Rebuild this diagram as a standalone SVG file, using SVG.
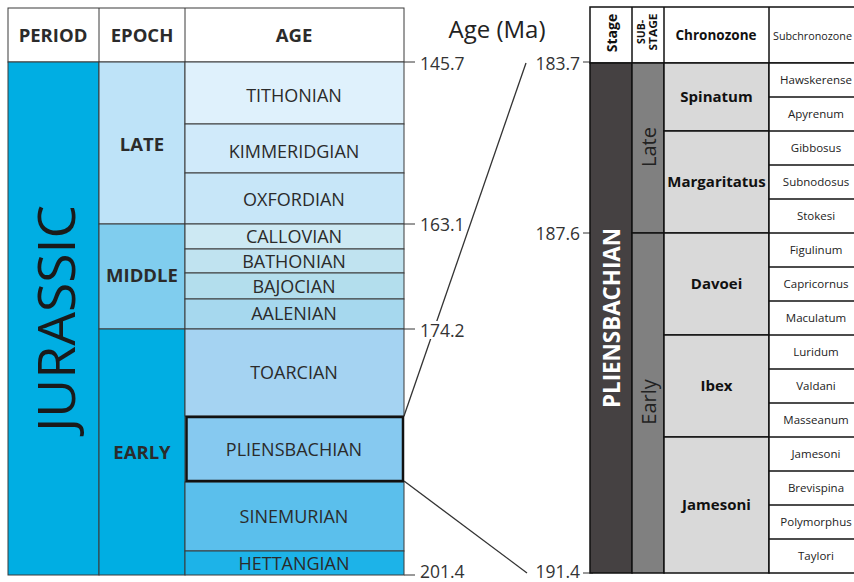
<svg xmlns="http://www.w3.org/2000/svg" width="854" height="582" viewBox="0 0 854 582">
<style>
text{font-family:"Open Sans","Liberation Sans",sans-serif;fill:#2b2b2b}
.hd{font-size:18.5px;font-weight:bold;text-anchor:middle}
.ep{font-size:18.5px;font-weight:bold;text-anchor:middle}
.ag{font-size:18px;text-anchor:middle}
.num{font-size:17.5px;fill:#333}
.cz{font-size:15px;font-weight:bold;text-anchor:middle;fill:#111}
.sc{font-size:11.5px;text-anchor:middle;fill:#222}
.cell{stroke:#3a3a3a;stroke-width:1}
.rc{stroke:#111;stroke-width:1.5}
.tick{stroke:#555;stroke-width:1.2}
</style>
<rect width="854" height="582" fill="#fff"/>

<!-- Left table -->
<g id="left-header">
<rect x="8" y="8" width="396" height="54" fill="#fff" class="cell"/>
<line x1="99" y1="8" x2="99" y2="62" class="cell"/>
<line x1="185" y1="8" x2="185" y2="62" class="cell"/>
<text class="hd" x="53" y="42">PERIOD</text>
<text class="hd" x="142" y="42">EPOCH</text>
<text class="hd" x="294" y="42">AGE</text>
</g>
<g id="period-jurassic">
<rect x="8" y="62" width="91" height="513" fill="#00aee3" class="cell"/>
<text transform="translate(75,318.5) rotate(-90)" text-anchor="middle" font-size="52" font-weight="normal" textLength="227" lengthAdjust="spacingAndGlyphs" style="fill:#1a1a1a">JURASSIC</text>
</g>
<g id="epoch-late">
<rect x="99" y="62" width="86" height="162" fill="#bee3f8" class="cell"/>
<text class="ep" x="142" y="151">LATE</text>
</g>
<g id="epoch-middle">
<rect x="99" y="224" width="86" height="105" fill="#80cdee" class="cell"/>
<text class="ep" x="142" y="282">MIDDLE</text>
</g>
<g id="epoch-early">
<rect x="99" y="329" width="86" height="246" fill="#00aee3" class="cell"/>
<text class="ep" x="142" y="459">EARLY</text>
</g>
<g id="age-tithonian"><rect x="185" y="62" width="219" height="62" fill="#dff1fc" class="cell"/><text class="ag" x="294" y="102">TITHONIAN</text></g>
<g id="age-kimmeridgian"><rect x="185" y="124" width="219" height="49" fill="#d0eafa" class="cell"/><text class="ag" x="294" y="158">KIMMERIDGIAN</text></g>
<g id="age-oxfordian"><rect x="185" y="173" width="219" height="51" fill="#c7e6f8" class="cell"/><text class="ag" x="294" y="206">OXFORDIAN</text></g>
<g id="age-callovian"><rect x="185" y="224" width="219" height="25" fill="#cde9f3" class="cell"/><text class="ag" x="294" y="243">CALLOVIAN</text></g>
<g id="age-bathonian"><rect x="185" y="249" width="219" height="24" fill="#c0e3f0" class="cell"/><text class="ag" x="294" y="268">BATHONIAN</text></g>
<g id="age-bajocian"><rect x="185" y="273" width="219" height="26" fill="#b3deed" class="cell"/><text class="ag" x="294" y="293">BAJOCIAN</text></g>
<g id="age-aalenian"><rect x="185" y="299" width="219" height="30" fill="#a6d8ee" class="cell"/><text class="ag" x="294" y="320">AALENIAN</text></g>
<g id="age-toarcian"><rect x="185" y="329" width="219" height="87" fill="#a5d3f2" class="cell"/><text class="ag" x="294" y="379">TOARCIAN</text></g>
<g id="age-sinemurian"><rect x="185" y="482" width="219" height="69" fill="#5bbfec" class="cell"/><text class="ag" x="294" y="523">SINEMURIAN</text></g>
<g id="age-hettangian"><rect x="185" y="551" width="219" height="24" fill="#1db3e8" class="cell"/><text class="ag" x="294" y="570">HETTANGIAN</text></g>
<g id="age-pliensbachian"><rect x="186.5" y="417" width="216.5" height="64" fill="#86c9f0" stroke="#111" stroke-width="2.5"/><text class="ag" x="294" y="456">PLIENSBACHIAN</text></g>

<!-- Connectors -->
<g id="connectors" stroke="#333" stroke-width="1.3" fill="none">
<line x1="404" y1="416" x2="526" y2="63"/>
<line x1="404" y1="481" x2="527" y2="573"/>
</g>

<!-- Left ticks and labels -->
<g id="left-ticks">
<line x1="404" y1="62" x2="415" y2="62" class="tick"/>
<line x1="404" y1="224" x2="415" y2="224" class="tick"/>
<line x1="404" y1="329" x2="415" y2="329" class="tick"/>
<line x1="404" y1="575" x2="415" y2="575" class="tick"/>
<text class="num" x="420" y="70">145.7</text>
<text class="num" x="420" y="231">163.1</text>
<rect x="419" y="321" width="48" height="18" fill="#fff"/>
<text class="num" x="420" y="337">174.2</text>
<text class="num" x="420" y="578">201.4</text>
</g>
<text id="age-ma" x="497" y="38" font-size="24" text-anchor="middle" style="fill:#222">Age (Ma)</text>

<!-- Right ticks -->
<g id="right-ticks">
<line x1="583" y1="62" x2="593" y2="62" class="tick"/>
<line x1="583" y1="233" x2="593" y2="233" class="tick"/>
<line x1="583" y1="573" x2="593" y2="573" class="tick"/>
<text class="num" x="580" y="70" text-anchor="end">183.7</text>
<text class="num" x="580" y="240" text-anchor="end">187.6</text>
<text class="num" x="580" y="578" text-anchor="end">191.4</text>
</g>

<!-- Right table -->
<g id="right-header">
<rect x="590" y="7" width="270" height="56" fill="#fff" class="rc"/>
<line x1="632" y1="7" x2="632" y2="63" class="rc"/>
<line x1="664" y1="7" x2="664" y2="63" class="rc"/>
<line x1="769" y1="7" x2="769" y2="63" class="rc"/>
<text transform="translate(617,33) rotate(-90)" text-anchor="middle" font-size="14" font-weight="bold" style="fill:#111">Stage</text>
<text transform="translate(645,32) rotate(-90)" text-anchor="middle" font-size="10.5" font-weight="bold" style="fill:#111">SUB-</text>
<text transform="translate(657,32) rotate(-90)" text-anchor="middle" font-size="10.5" font-weight="bold" textLength="37" lengthAdjust="spacingAndGlyphs" style="fill:#111">STAGE</text>
<text x="716" y="40" font-size="13.5" font-weight="bold" text-anchor="middle" style="fill:#111">Chronozone</text>
<text x="773" y="40" font-size="11" textLength="79" lengthAdjust="spacingAndGlyphs" style="fill:#222">Subchronozone</text>
</g>
<g id="stage-pliensbachian">
<rect x="590" y="63" width="42" height="510" fill="#454142" class="rc"/>
<text transform="translate(620,318) rotate(-90)" text-anchor="middle" font-size="23" font-weight="bold" textLength="180" lengthAdjust="spacingAndGlyphs" style="fill:#fff">PLIENSBACHIAN</text>
</g>
<g id="substage-late">
<rect x="632" y="63" width="32" height="170" fill="#808080" class="rc"/>
<text transform="translate(656,147) rotate(-90)" text-anchor="middle" font-size="20" style="fill:#222">Late</text>
</g>
<g id="substage-early">
<rect x="632" y="233" width="32" height="340" fill="#808080" class="rc"/>
<text transform="translate(656,402) rotate(-90)" text-anchor="middle" font-size="20" style="fill:#222">Early</text>
</g>
<g id="chrono-spinatum"><rect x="664" y="63" width="105" height="68" fill="#d9d9d9" class="rc"/><text class="cz" x="716.5" y="102">Spinatum</text></g>
<g id="chrono-margaritatus"><rect x="664" y="131" width="105" height="102" fill="#d9d9d9" class="rc"/><text class="cz" x="716.5" y="187">Margaritatus</text></g>
<g id="chrono-davoei"><rect x="664" y="233" width="105" height="102" fill="#d9d9d9" class="rc"/><text class="cz" x="716.5" y="289">Davoei</text></g>
<g id="chrono-ibex"><rect x="664" y="335" width="105" height="102" fill="#d9d9d9" class="rc"/><text class="cz" x="716.5" y="391">Ibex</text></g>
<g id="chrono-jamesoni"><rect x="664" y="437" width="105" height="136" fill="#d9d9d9" class="rc"/><text class="cz" x="716.5" y="510">Jamesoni</text></g>
<g id="subchronozones">
<rect x="769" y="63" width="91" height="510" fill="#fff" class="rc"/>
<g class="rc">
<line x1="769" y1="97" x2="860" y2="97"/><line x1="769" y1="131" x2="860" y2="131"/><line x1="769" y1="165" x2="860" y2="165"/><line x1="769" y1="199" x2="860" y2="199"/><line x1="769" y1="233" x2="860" y2="233"/><line x1="769" y1="267" x2="860" y2="267"/><line x1="769" y1="301" x2="860" y2="301"/><line x1="769" y1="335" x2="860" y2="335"/><line x1="769" y1="369" x2="860" y2="369"/><line x1="769" y1="403" x2="860" y2="403"/><line x1="769" y1="437" x2="860" y2="437"/><line x1="769" y1="471" x2="860" y2="471"/><line x1="769" y1="505" x2="860" y2="505"/><line x1="769" y1="539" x2="860" y2="539"/>
</g>
<text class="sc" x="816" y="84">Hawskerense</text>
<text class="sc" x="816" y="118">Apyrenum</text>
<text class="sc" x="816" y="152">Gibbosus</text>
<text class="sc" x="816" y="186">Subnodosus</text>
<text class="sc" x="816" y="220">Stokesi</text>
<text class="sc" x="816" y="254">Figulinum</text>
<text class="sc" x="816" y="288">Capricornus</text>
<text class="sc" x="816" y="322">Maculatum</text>
<text class="sc" x="816" y="356">Luridum</text>
<text class="sc" x="816" y="390">Valdani</text>
<text class="sc" x="816" y="424">Masseanum</text>
<text class="sc" x="816" y="458">Jamesoni</text>
<text class="sc" x="816" y="492">Brevispina</text>
<text class="sc" x="816" y="526">Polymorphus</text>
<text class="sc" x="816" y="560">Taylori</text>
</g>
</svg>
